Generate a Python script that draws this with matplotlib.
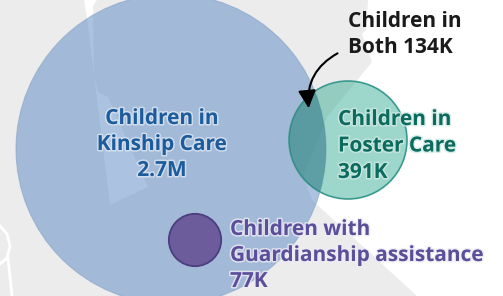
import numpy as np
import matplotlib.pyplot as plt
import matplotlib.patheffects as pe
from matplotlib.patches import Circle, Polygon, FancyArrowPatch

plt.rcParams['font.family'] = ['Open Sans', 'DejaVu Sans']

# children, in thousands
groups = ["Kinship Care", "Foster Care", "Guardianship assistance"]
counts = [2700, 391, 77]
both_count = 134
value_labels = ["2.7M", "391K", "77K"]

fig = plt.figure(figsize=(5.03, 2.96), dpi=100)
fig.patch.set_facecolor('#ececec')
ax = fig.add_axes([0, 0, 1, 1])
ax.set_xlim(0, 503)
ax.set_ylim(296, 0)
ax.axis('off')

# map-like background: white gaps on grey
white_right = [(368, 0), (366, 30), (362, 34), (372, 62), (327, 117), (303, 177),
               (312, 200), (417, 296), (503, 296), (503, 0)]
white_strip = [(84, 0), (97, 0), (93, 6), (94, 75), (98, 92), (108, 97), (148, 187),
               (110, 205), (87, 18)]
for poly in (white_right, white_strip):
    ax.add_patch(Polygon(poly, closed=True, fc='white', ec='none', zorder=1))
ax.plot([0, 7, 10, 7, 0], [226, 234, 246, 258, 264], color='white', lw=2, zorder=1)
ax.plot([8, 12], [258, 296], color='white', lw=2, zorder=1)

# circle areas follow the counts
scale = 155 / np.sqrt(counts[0])
radii = [scale * np.sqrt(c) for c in counts]
centers = [(171, 149), (348, 140), (195, 240)]

big = Circle(centers[0], radii[0], fc='#5f8cc4', alpha=0.52, ec='#7f9dc6', lw=0.8, zorder=2)
ax.add_patch(big)
ax.add_patch(Circle(centers[1], radii[1], fc='#3dae96', alpha=0.5, ec='none', zorder=3))
ax.add_patch(Circle(centers[1], radii[1], fc='none', ec='#3b9a8f', lw=1.2, zorder=3))
shade = Circle(centers[1], radii[1], fc='#1d5566', alpha=0.25, ec='none', zorder=3)
ax.add_patch(shade)
shade.set_clip_path(big)
ax.add_patch(Circle(centers[2], radii[2], fc='#6c5c9c', ec='#4b3f7d', lw=1.3, zorder=4))

fs = 15
wt = 'bold'
glow = lambda c: [pe.withStroke(linewidth=2.2, foreground=c, alpha=0.8)]

kin = ["Children in", groups[0], value_labels[0]]
for i, s in enumerate(kin):
    ax.text(162, 124 + 26 * i, s, ha='center', va='baseline', fontsize=fs,
            fontweight=wt, color='#1d5b9b', path_effects=glow('#dbe5f2'), zorder=5)

fos = ["Children in", groups[1], value_labels[1]]
for i, s in enumerate(fos):
    ax.text(338, 125 + 26.5 * i, s, ha='left', va='baseline', fontsize=fs,
            fontweight=wt, color='#0c6b5e', path_effects=glow('#cfeae4'), zorder=5)

gua = ["Children with", groups[2], value_labels[2]]
for i, s in enumerate(gua):
    ax.text(230, 235 + 26 * i, s, ha='left', va='baseline', fontsize=fs,
            fontweight=wt, color='#5c4f99', path_effects=glow('#eeebf5'), zorder=5)

both = ["Children in", f"Both {both_count}K"]
for i, s in enumerate(both):
    ax.text(348, 27 + 26 * i, s, ha='left', va='baseline', fontsize=fs,
            fontweight=wt, color='#1a1a1a', zorder=5)

arr = FancyArrowPatch((340, 52), (309, 111), connectionstyle='arc3,rad=0.35',
                      arrowstyle='-|>,head_length=0.9,head_width=0.45',
                      mutation_scale=12, color='black', lw=1.5, zorder=6)
ax.add_patch(arr)

fig.savefig('out.png', dpi=100, facecolor=fig.get_facecolor())
